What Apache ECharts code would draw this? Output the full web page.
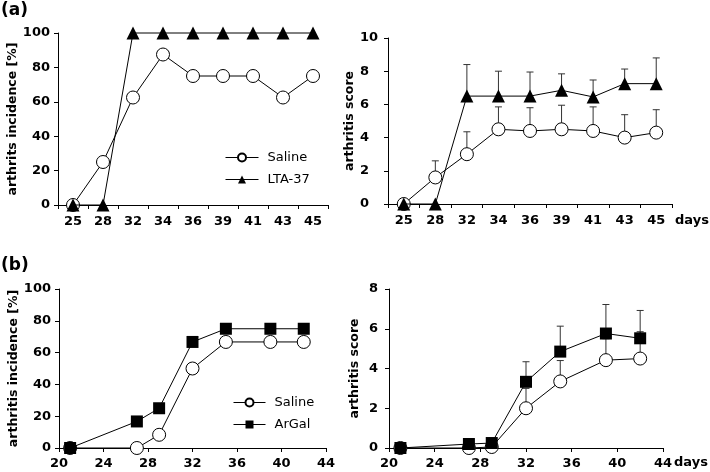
<!DOCTYPE html>
<html>
<head>
<meta charset="utf-8">
<script src="https://cdn.jsdelivr.net/npm/echarts@6/dist/echarts.min.js"></script>
<style>html,body{margin:0;padding:0;background:#fff;}#c{width:710px;height:472px;}</style>
</head>
<body>
<div id="c"></div>
<script>
// ---- data ----
const daysA = ['25','28','32','34','36','39','41','43','45'];
const incSalineA = [0, 25, 62.5, 87.5, 75, 75, 75, 62.5, 75];
const incLtaA = [0, 0, 100, 100, 100, 100, 100, 100, 100];
const scoreSalineA = [0, 1.6, 3.0, 4.5, 4.4, 4.5, 4.4, 4.0, 4.3];
const scoreSalineAUpper = [null, 2.6, 4.35, 5.85, 5.8, 5.95, 5.85, 5.38, 5.68];
const scoreLtaA = [0, 0, 6.5, 6.5, 6.5, 6.85, 6.45, 7.25, 7.25];
const scoreLtaAUpper = [null, null, 8.4, 8.0, 7.95, 7.84, 7.47, 8.13, 8.8];

const daysB = [21, 27, 29, 32, 35, 39, 42];
const incSalineB = [0, 0, 8.3, 50, 66.7, 66.7, 66.7];
const incArgalB = [0, 16.7, 25, 66.7, 75, 75, 75];
const scoreSalineB = [0, 0, 0.05, 2.0, 3.35, 4.42, 4.5];
const scoreSalineBUpper = [null, null, null, 3.0, 4.4, 5.5, 5.85];
const scoreArgalB = [0, 0.2, 0.25, 3.33, 4.85, 5.76, 5.52];
const scoreArgalBUpper = [null, null, null, 4.34, 6.13, 7.22, 6.92];

const FONT = 'DejaVu Sans';
const pair = (xs, ys) => xs.map((x, i) => [x, ys[i]]);
const errData = (xs, ys, us) => xs.map((x, i) => [x, ys[i], us[i]]).filter(d => d[2] != null);

function errRender(params, api) {
  const x = api.value(0), y = api.value(1), u = api.value(2);
  const p0 = api.coord([x, y]);
  const p1 = api.coord([x, u]);
  const st = { stroke: '#333', lineWidth: 1 };
  return { type: 'group', children: [
    { type: 'line', shape: { x1: p0[0], y1: p0[1], x2: p1[0], y2: p1[1] }, style: st },
    { type: 'line', shape: { x1: p1[0] - 3.5, y1: p1[1], x2: p1[0] + 3.5, y2: p1[1] }, style: st }
  ]};
}

const axisLine = { show: true, lineStyle: { color: '#000', width: 1 } };
const axisTick = { show: true, length: 4, lineStyle: { color: '#000' } };
const lbl = { color: '#000', fontFamily: FONT, fontWeight: 'bold', fontSize: 13 };
const nameStyle = { color: '#000', fontFamily: FONT, fontWeight: 'bold', fontSize: 12.5 };

function yAx(gi, max, interval, name, gap, labelExtra) {
  return { type: 'value', gridIndex: gi, min: 0, max: max, interval: interval,
    name: name, nameLocation: 'middle', nameGap: gap, nameTextStyle: nameStyle,
    axisLine: axisLine, axisTick: axisTick, splitLine: { show: false },
    axisLabel: Object.assign({}, lbl, labelExtra) };
}

const circ = { symbol: 'circle', symbolSize: 13, itemStyle: { color: '#fff', borderColor: '#000', borderWidth: 1 } };
const tri = { symbol: 'triangle', symbolSize: 13, itemStyle: { color: '#000', borderColor: '#000', borderWidth: 0 } };
const sq = { symbol: 'rect', symbolSize: 12, itemStyle: { color: '#000', borderColor: '#000', borderWidth: 0 } };
const lineSt = { color: '#000', width: 1 };

function lineSeries(name, xi, yi, data, sym, z) {
  return Object.assign({ type: 'line', name: name, xAxisIndex: xi, yAxisIndex: yi, data: data,
    showAllSymbol: true, lineStyle: lineSt, z: z, animation: false, clip: false,
    emphasis: { disabled: true } }, sym);
}
function errSeries(xi, yi, data) {
  return { type: 'custom', xAxisIndex: xi, yAxisIndex: yi, data: data, renderItem: errRender,
    encode: { x: 0, y: 1 }, z: 1, animation: false, silent: true };
}

const legendCommon = { orient: 'vertical', padding: 0, itemHeight: 10, itemGap: 9, selectedMode: false,
  lineStyle: { width: 1, color: '#000' },
  textStyle: { color: '#000', fontFamily: FONT, fontSize: 13, padding: [0, 0, 0, 4] } };

const option = {
  animation: false,
  backgroundColor: '#fff',
  grid: [
    { left: 58, top: 33, width: 270, height: 172 },
    { left: 388, top: 38, width: 284, height: 166 },
    { left: 59, top: 289, width: 267, height: 159 },
    { left: 389, top: 289, width: 274, height: 159 }
  ],
  xAxis: [
    { type: 'category', gridIndex: 0, data: daysA, boundaryGap: true, axisLine: axisLine,
      axisTick: Object.assign({ alignWithLabel: false }, axisTick), axisLabel: Object.assign({ margin: 10, interval: 0 }, lbl) },
    { type: 'category', gridIndex: 1, data: daysA, boundaryGap: true, axisLine: axisLine,
      axisTick: Object.assign({ alignWithLabel: false }, axisTick), axisLabel: Object.assign({ margin: 10, interval: 0 }, lbl) },
    { type: 'value', gridIndex: 2, min: 20, max: 44, interval: 4, axisLine: axisLine, axisTick: axisTick,
      splitLine: { show: false }, axisLabel: Object.assign({ margin: 9 }, lbl) },
    { type: 'value', gridIndex: 3, min: 20, max: 44, interval: 4, axisLine: axisLine, axisTick: axisTick,
      splitLine: { show: false }, axisLabel: Object.assign({ margin: 9 }, lbl) }
  ],
  yAxis: [
    yAx(0, 100, 20, 'arthrits incidence [%]', 39, { margin: 8 }),
    yAx(1, 10, 2, 'arthritis score', 31, { margin: 28, align: 'left' }),
    yAx(2, 100, 20, 'arthritis incidence [%]', 39, { margin: 8 }),
    yAx(3, 8, 2, 'arthritis score', 28, { margin: 11 })
  ],
  legend: [
    Object.assign({ left: 225, top: 151, itemWidth: 33, data: ['Saline', 'LTA-37'] }, legendCommon),
    Object.assign({ left: 233, top: 396, itemWidth: 32, data: ['Saline', 'ArGal'] }, legendCommon)
  ],
  graphic: [
    { type: 'text', left: 1, top: 2, style: { text: '(a)', fill: '#000', font: 'bold 17px "DejaVu Sans"' } },
    { type: 'text', left: 1, top: 257, style: { text: '(b)', fill: '#000', font: 'bold 17px "DejaVu Sans"' } },
    { type: 'text', left: 675, top: 214, style: { text: 'days', fill: '#000', font: 'bold 13px "DejaVu Sans"' } },
    { type: 'text', left: 674, top: 456, style: { text: 'days', fill: '#000', font: 'bold 13px "DejaVu Sans"' } }
  ],
  series: [
    lineSeries('Saline', 0, 0, incSalineA, circ, 3),
    lineSeries('LTA-37', 0, 0, incLtaA, tri, 4),
    errSeries(1, 1, errData(daysA, scoreSalineA, scoreSalineAUpper)),
    errSeries(1, 1, errData(daysA, scoreLtaA, scoreLtaAUpper)),
    lineSeries('Saline', 1, 1, scoreSalineA, circ, 3),
    lineSeries('LTA-37', 1, 1, scoreLtaA, tri, 4),
    lineSeries('Saline', 2, 2, pair(daysB, incSalineB), circ, 3),
    lineSeries('ArGal', 2, 2, pair(daysB, incArgalB), sq, 4),
    errSeries(3, 3, errData(daysB, scoreSalineB, scoreSalineBUpper)),
    errSeries(3, 3, errData(daysB, scoreArgalB, scoreArgalBUpper)),
    lineSeries('Saline', 3, 3, pair(daysB, scoreSalineB), circ, 3),
    lineSeries('ArGal', 3, 3, pair(daysB, scoreArgalB), sq, 4)
  ]
};
const chart = echarts.init(document.getElementById('c'), null, { renderer: 'canvas' });
chart.setOption(option);
</script>
</body>
</html>
